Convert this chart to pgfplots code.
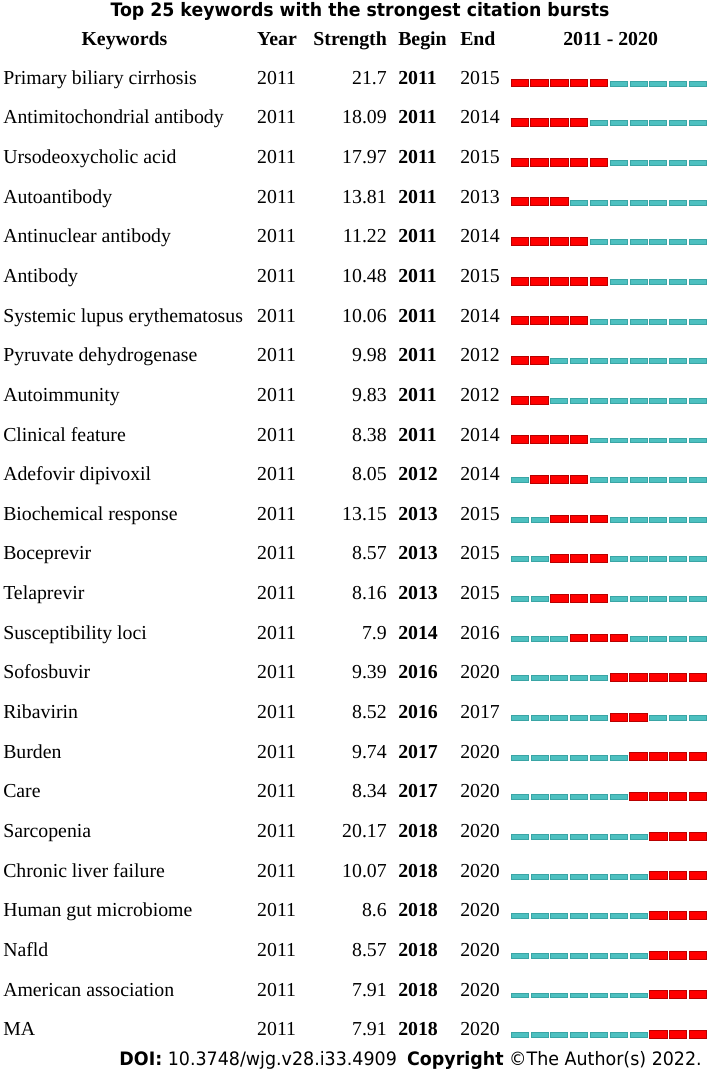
\documentclass[border=0pt]{standalone}
\usepackage{fontspec}
\setmainfont{Liberation Serif}
\newfontfamily\titlefont[FakeStretch=0.936]{DejaVu Sans}
\newfontfamily\footfont[FakeStretch=0.944]{DejaVu Sans}
\usepackage{pgfplots}
\usepackage{pgfplotstable}
\pgfplotsset{compat=1.18}
\definecolor{burstred}{HTML}{FF0000}
\definecolor{burstredE}{HTML}{B80000}
\definecolor{cyanseg}{HTML}{4DC0C0}
\definecolor{cyansegE}{HTML}{3AA5A5}
\pgfdeclareplotmark{redseg}{\pgfpathrectangle{\pgfqpoint{-8.7pt}{-3.95pt}}{\pgfqpoint{17.4pt}{7.9pt}}\pgfusepathqfillstroke}
\pgfdeclareplotmark{cyanseg}{\pgfpathrectangle{\pgfqpoint{-8.5pt}{-3.2pt}}{\pgfqpoint{17pt}{4.9pt}}\pgfusepathqfillstroke}
\newcommand\tabfont{\fontsize{19.8}{24}\selectfont}
\pgfplotstableread[col sep=comma]{
row,kw,year,strength,begin,end
1,Primary biliary cirrhosis,2011,21.7,2011,2015
2,Antimitochondrial antibody,2011,18.09,2011,2014
3,Ursodeoxycholic acid,2011,17.97,2011,2015
4,Autoantibody,2011,13.81,2011,2013
5,Antinuclear antibody,2011,11.22,2011,2014
6,Antibody,2011,10.48,2011,2015
7,Systemic lupus erythematosus,2011,10.06,2011,2014
8,Pyruvate dehydrogenase,2011,9.98,2011,2012
9,Autoimmunity,2011,9.83,2011,2012
10,Clinical feature,2011,8.38,2011,2014
11,Adefovir dipivoxil,2011,8.05,2012,2014
12,Biochemical response,2011,13.15,2013,2015
13,Boceprevir,2011,8.57,2013,2015
14,Telaprevir,2011,8.16,2013,2015
15,Susceptibility loci,2011,7.9,2014,2016
16,Sofosbuvir,2011,9.39,2016,2020
17,Ribavirin,2011,8.52,2016,2017
18,Burden,2011,9.74,2017,2020
19,Care,2011,8.34,2017,2020
20,Sarcopenia,2011,20.17,2018,2020
21,Chronic liver failure,2011,10.07,2018,2020
22,Human gut microbiome,2011,8.6,2018,2020
23,Nafld,2011,8.57,2018,2020
24,American association,2011,7.91,2018,2020
25,MA,2011,7.91,2018,2020
}\kwtable
\pgfplotsset{
  textcol/.style={only marks, mark=*, mark size=0pt, mark options={draw=none,fill=none},
    point meta=explicit symbolic,
    nodes near coords={\pgfplotspointmeta},
    nodes near coords style={anchor=#1, inner sep=0pt, yshift=-1.5pt, font=\tabfont, text=black}},
}
\begin{document}
\begin{tikzpicture}
\begin{axis}[
  scale only axis, width=708pt, height=1070pt,
  xmin=1984.776, xmax=2020.515,
  ymin=-1.0888, ymax=25.904, y dir=reverse,
  hide axis, clip=false,
]
% bars
\addplot[only marks, mark=cyanseg, mark options={fill=cyanseg, draw=cyansegE, line width=0.6pt}] coordinates {
(2016,1)(2017,1)(2018,1)(2019,1)(2020,1)
(2015,2)(2016,2)(2017,2)(2018,2)(2019,2)(2020,2)
(2016,3)(2017,3)(2018,3)(2019,3)(2020,3)
(2014,4)(2015,4)(2016,4)(2017,4)(2018,4)(2019,4)(2020,4)
(2015,5)(2016,5)(2017,5)(2018,5)(2019,5)(2020,5)
(2016,6)(2017,6)(2018,6)(2019,6)(2020,6)
(2015,7)(2016,7)(2017,7)(2018,7)(2019,7)(2020,7)
(2013,8)(2014,8)(2015,8)(2016,8)(2017,8)(2018,8)(2019,8)(2020,8)
(2013,9)(2014,9)(2015,9)(2016,9)(2017,9)(2018,9)(2019,9)(2020,9)
(2015,10)(2016,10)(2017,10)(2018,10)(2019,10)(2020,10)
(2011,11)(2015,11)(2016,11)(2017,11)(2018,11)(2019,11)(2020,11)
(2011,12)(2012,12)(2016,12)(2017,12)(2018,12)(2019,12)(2020,12)
(2011,13)(2012,13)(2016,13)(2017,13)(2018,13)(2019,13)(2020,13)
(2011,14)(2012,14)(2016,14)(2017,14)(2018,14)(2019,14)(2020,14)
(2011,15)(2012,15)(2013,15)(2017,15)(2018,15)(2019,15)(2020,15)
(2011,16)(2012,16)(2013,16)(2014,16)(2015,16)
(2011,17)(2012,17)(2013,17)(2014,17)(2015,17)(2018,17)(2019,17)(2020,17)
(2011,18)(2012,18)(2013,18)(2014,18)(2015,18)(2016,18)
(2011,19)(2012,19)(2013,19)(2014,19)(2015,19)(2016,19)
(2011,20)(2012,20)(2013,20)(2014,20)(2015,20)(2016,20)(2017,20)
(2011,21)(2012,21)(2013,21)(2014,21)(2015,21)(2016,21)(2017,21)
(2011,22)(2012,22)(2013,22)(2014,22)(2015,22)(2016,22)(2017,22)
(2011,23)(2012,23)(2013,23)(2014,23)(2015,23)(2016,23)(2017,23)
(2011,24)(2012,24)(2013,24)(2014,24)(2015,24)(2016,24)(2017,24)
(2011,25)(2012,25)(2013,25)(2014,25)(2015,25)(2016,25)(2017,25)
};
\addplot[only marks, mark=redseg, mark options={fill=burstred, draw=burstredE, line width=0.6pt}] coordinates {
(2011,1)(2012,1)(2013,1)(2014,1)(2015,1)
(2011,2)(2012,2)(2013,2)(2014,2)
(2011,3)(2012,3)(2013,3)(2014,3)(2015,3)
(2011,4)(2012,4)(2013,4)
(2011,5)(2012,5)(2013,5)(2014,5)
(2011,6)(2012,6)(2013,6)(2014,6)(2015,6)
(2011,7)(2012,7)(2013,7)(2014,7)
(2011,8)(2012,8)
(2011,9)(2012,9)
(2011,10)(2012,10)(2013,10)(2014,10)
(2012,11)(2013,11)(2014,11)
(2013,12)(2014,12)(2015,12)
(2013,13)(2014,13)(2015,13)
(2013,14)(2014,14)(2015,14)
(2014,15)(2015,15)(2016,15)
(2016,16)(2017,16)(2018,16)(2019,16)(2020,16)
(2016,17)(2017,17)
(2017,18)(2018,18)(2019,18)(2020,18)
(2017,19)(2018,19)(2019,19)(2020,19)
(2018,20)(2019,20)(2020,20)
(2018,21)(2019,21)(2020,21)
(2018,22)(2019,22)(2020,22)
(2018,23)(2019,23)(2020,23)
(2018,24)(2019,24)(2020,24)
(2018,25)(2019,25)(2020,25)
};
% text columns
\addplot[textcol=base west] table[x expr=1984.93, y=row, meta=kw]{\kwtable};
\addplot[textcol=base west] table[x expr=1997.75, y=row, meta=year]{\kwtable};
\addplot[textcol=base east] table[x expr=2004.31, y=row, meta=strength]{\kwtable};
\addplot[textcol=base west, nodes near coords={\textbf{\pgfplotspointmeta}}] table[x expr=2004.87, y=row, meta=begin]{\kwtable};
\addplot[textcol=base west] table[x expr=2008.0, y=row, meta=end]{\kwtable};
% headers
\node[anchor=base, inner sep=0pt, yshift=-2.5pt, font=\tabfont\bfseries] at (axis cs:1991.06,0) {Keywords};
\node[anchor=base west, inner sep=0pt, yshift=-2.5pt, font=\tabfont\bfseries] at (axis cs:1997.75,0) {Year};
\node[anchor=base east, inner sep=0pt, yshift=-2.5pt, font=\tabfont\bfseries] at (axis cs:2004.31,0) {Strength};
\node[anchor=base west, inner sep=0pt, yshift=-2.5pt, font=\tabfont\bfseries] at (axis cs:2004.87,0) {Begin};
\node[anchor=base west, inner sep=0pt, yshift=-2.5pt, font=\tabfont\bfseries] at (axis cs:2008.0,0) {End};
\node[anchor=base, inner sep=0pt, yshift=-2.5pt, font=\tabfont\bfseries] at (axis cs:2015.6,0) {2011 - 2020};
% title and footer
\node[anchor=base, inner sep=0pt, font={\titlefont\bfseries\fontsize{18.5}{22}\selectfont}] at (axis cs:2002.95,-0.6675) {Top 25 keywords with the strongest citation bursts};
\node[anchor=base east, inner sep=0pt, font={\footfont\fontsize{18.5}{22}\selectfont}] at (axis cs:2020.21,25.80) {\textbf{DOI:} 10.3748/wjg.v28.i33.4909\hspace{0.55em}\textbf{Copyright} ©The Author(s) 2022.};
\end{axis}
\pgfresetboundingbox
\path (0,0) rectangle (708pt,1070pt);
\end{tikzpicture}
\end{document}
